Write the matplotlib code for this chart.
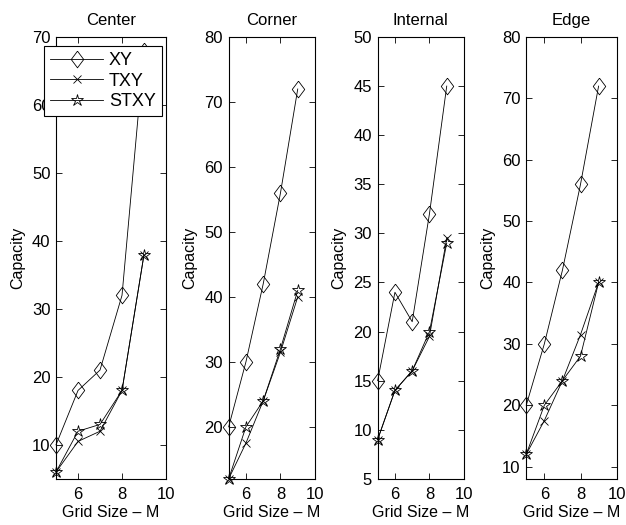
import matplotlib
matplotlib.use('Agg')
import matplotlib.pyplot as plt

plt.rcParams['font.family'] = ['Liberation Sans', 'DejaVu Sans']
plt.rcParams['font.size'] = 12

grid = [5, 6, 7, 8, 9]
titles = ['Center', 'Corner', 'Internal', 'Edge']

# capacity values per panel
xy = [[10, 18, 21, 32, 68],
      [20, 30, 42, 56, 72],
      [15, 24, 21, 32, 45],
      [20, 30, 42, 56, 72]]
txy = [[6, 10.5, 12, 18, 38],
       [12, 17.5, 24, 31.5, 40],
       [9, 14, 16, 19.5, 29.5],
       [12, 17.5, 24, 31.5, 40]]
stxy = [[6, 12, 13, 18, 38],
        [12, 20, 24, 32, 41],
        [9, 14, 16, 20, 29],
        [12, 20, 24, 28, 40]]

ylims = [(5, 70), (12, 80), (5, 50), (8, 80)]
yticks = [range(10, 71, 10), range(20, 81, 10), range(5, 51, 5), range(10, 81, 10)]

# axes boxes in figure fractions
positions = [[0.0895, 0.088, 0.1757, 0.8415],
             [0.3653, 0.088, 0.1379, 0.8415],
             [0.6033, 0.088, 0.1379, 0.8415],
             [0.8407, 0.088, 0.1444, 0.8415]]

# matlab-like diamond, a bit wider than matplotlib's thin one
diamond = [(0, 1), (0.75, 0), (0, -1), (-0.75, 0), (0, 1)]

fig = plt.figure(figsize=(6.26, 5.25), dpi=100)

lines = None
for i in range(4):
    ax = fig.add_axes(positions[i])
    l1, = ax.plot(grid, xy[i], color='k', lw=0.6, marker=diamond, ms=12,
                  mfc='none', mec='k', mew=0.6, clip_on=False)
    l2, = ax.plot(grid, txy[i], color='k', lw=0.6, marker='x', ms=6,
                  mec='k', mew=0.6, clip_on=False)
    l3, = ax.plot(grid, stxy[i], color='k', lw=0.6, marker='*', ms=9,
                  mfc='none', mec='k', mew=0.6, clip_on=False)
    if lines is None:
        lines = [l1, l2, l3]
    ax.set_xlim(5, 10)
    ax.set_xticks([6, 8, 10])
    ax.set_ylim(*ylims[i])
    ax.set_yticks(list(yticks[i]))
    ax.tick_params(direction='in', top=True, right=True, length=4, width=0.6,
                   labelsize=12, pad=4)
    ax.tick_params(axis='x', pad=6)
    for s in ax.spines.values():
        s.set_linewidth(0.8)
    ax.set_title(titles[i], fontsize=12, pad=9)
    ax.set_xlabel('Grid Size \u2013 M', fontsize=11.5, labelpad=2)
    ax.set_ylabel('Capacity', fontsize=11.5, labelpad=5)

leg = fig.legend(lines, ['XY', 'TXY', 'STXY'], loc='upper left',
                 bbox_to_anchor=(44 / 626, 1 - 46 / 525),
                 bbox_transform=fig.transFigure, borderaxespad=0,
                 fancybox=False, framealpha=1, edgecolor='k',
                 handlelength=2.9, handletextpad=0.35, labelspacing=0.18,
                 borderpad=0.35, fontsize=13)
leg.get_frame().set_linewidth(0.8)

fig.savefig('out.png', dpi=100)
